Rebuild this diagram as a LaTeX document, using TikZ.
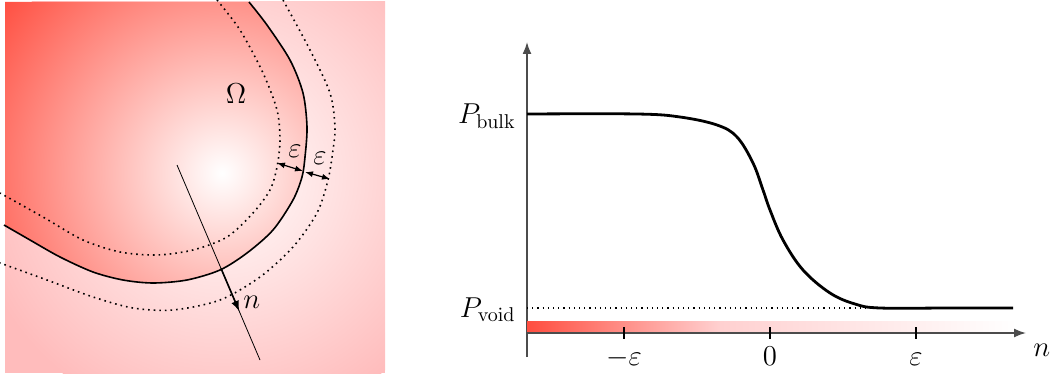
\documentclass[tikz,border=0pt]{standalone}
\usepackage{amsmath, amssymb, amsfonts}
\usepackage{tikz}
\usetikzlibrary{calc, arrows.meta}
\definecolor{omegared}{RGB}{255,78,64}
\definecolor{voidpink}{RGB}{255,188,188}
\definecolor{barpink}{RGB}{255,208,208}
\begin{document}
\begin{tikzpicture}[
    x=0.5pt, y=-0.5pt,
    font=\fontsize{14.5}{17}\selectfont,
    boundary/.style={thick},
    layerline/.style={dotted, line width=0.8pt},
    axisline/.style={-{Latex[length=6pt, width=4.5pt]}, thick, black!70},
    profile/.style={line width=1.4pt},
    tickmark/.style={thick},
    widtharrow/.style={{Latex[length=4pt, width=3pt]}-{Latex[length=4pt, width=3pt]}, semithick},
    label/.style={anchor=base, inner sep=0pt}
]
    \useasboundingbox (0,0) rectangle (1050,374);
    \coordinate (ctr) at (222,173);
    % left panel: domain with shading
    \fill[voidpink] (5,2) rectangle (385,373);
    \begin{scope}
        \clip (5,2) rectangle (385,373);
        \shade[inner color=white, outer color=voidpink] (ctr) circle (128pt);
        \clip (5,2) -- (249,2) -- plot[smooth] coordinates {(249,2) (267,25) (290,60) (303,93) (307,127) (305,157) (302,177) (293,200) (273,230) (247,253) (220,270) (187,280) (153,283) (123,280) (93,272) (60,257) (30,240) (5,226)} -- cycle;
        \fill[omegared] (5,2) rectangle (385,373);
        \shade[inner color=white, outer color=omegared] (ctr) circle (140pt);
    \end{scope}
    \draw[boundary] plot[smooth] coordinates {(249,2) (267,25) (290,60) (303,93) (307,127) (305,157) (302,177) (293,200) (273,230) (247,253) (220,270) (187,280) (153,283) (123,280) (93,272) (60,257) (30,240) (4,225)};
    \draw[layerline] plot[smooth] coordinates {(217,0) (240,30) (263,73) (277,110) (280,140) (277,167) (270,190) (253,213) (227,237) (193,250) (157,255) (120,252) (83,240) (43,217) (0,193)};
    \draw[layerline] plot[smooth] coordinates {(283,0) (310,50) (330,93) (335,127) (333,150) (328,180) (317,213) (293,247) (260,277) (220,300) (173,310) (133,308) (93,297) (47,280) (0,263)};
    % normal direction
    \coordinate (nstart) at (177,165);
    \coordinate (nend) at (260,360);
    \coordinate (nhit) at ($(nstart)!0.53!(nend)$);
    \coordinate (ntip) at ($(nstart)!0.75!(nend)$);
    \draw[thin] (nstart) -- (nend);
    \draw[-latex, thick] (nhit) -- (ntip);
    \node[label, anchor=base west] (nlabel) at (243,308) {$n$};
    \node[label] (omega) at (236,104) {$\Omega$};
    % layer widths
    \coordinate (inner) at (277,163);
    \coordinate (mid) at (303,171);
    \coordinate (mid2) at (305,172);
    \coordinate (outer) at (330,179);
    \draw[widtharrow] (inner) -- (mid);
    \draw[widtharrow] (mid2) -- (outer);
    \node[label] (eps1) at (295,158) {$\varepsilon$};
    \node[label] (eps2) at (320,164) {$\varepsilon$};
    % right panel: profile across the interface
    \coordinate (origin) at (527,333);
    \draw[axisline] (527,357) -- (527,42);
    \shade[left color=omegared, right color=barpink] (527,321) rectangle (720,333);
    \shade[left color=barpink, right color=white] (720,321) rectangle (1017,333);
    \draw[axisline] (origin) -- (1026,333);
    \foreach \x/\lab in {624/-\varepsilon, 770/0, 916/\varepsilon} {
        \draw[tickmark] (\x,327) -- (\x,339);
        \node[label] at (\x,365) {$\lab$};
    }
    \node[label, anchor=base west] (naxis) at (1033,356) {$n$};
    \node[label, anchor=base east] (pbulk) at (516,124) {$P_{\mathrm{bulk}}$};
    \node[label, anchor=base east] (pvoid) at (516,317) {$P_{\mathrm{void}}$};
    \draw[dotted, semithick] (527,308) -- (870,308);
    \draw[profile] plot[smooth, tension=0.6] coordinates {(527,114) (637,114) (680,117) (717,125) (737,137) (753,163) (763,190) (770,210) (783,240) (803,270) (830,293) (855,304) (880,308) (950,308) (1013,308)};
\end{tikzpicture}
\end{document}
